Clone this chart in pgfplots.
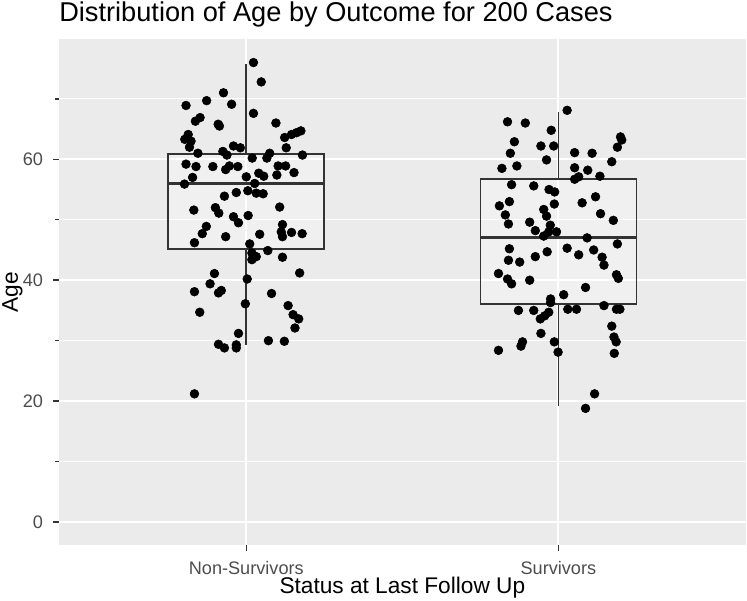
\documentclass[border=0pt]{standalone}
\usepackage{fontspec}
\setmainfont{Liberation Sans}
\usepackage{pgfplots}
\usepackage{pgfplotstable}
\pgfplotsset{compat=1.18}
\definecolor{panelbg}{HTML}{EBEBEB}
\definecolor{grey20}{HTML}{333333}
\definecolor{grey30}{HTML}{4D4D4D}

\pgfplotstableread{
x y
1.023 76.0
1.048 72.8
0.927 71.0
0.873 69.7
0.807 68.9
0.953 69.1
1.023 67.6
0.852 66.9
0.837 66.3
0.910 65.8
0.914 65.5
1.095 66.0
1.175 64.7
1.161 64.4
1.145 64.1
1.123 63.6
0.814 64.1
0.803 63.3
0.823 63.0
0.818 62.0
0.959 62.2
0.981 61.9
1.128 61.9
0.845 61.0
0.925 61.3
0.938 60.7
1.075 61.0
1.180 60.7
1.019 60.2
1.066 60.2
0.807 59.2
0.839 58.8
0.893 58.8
0.934 58.3
0.946 58.9
0.973 58.8
0.828 57.0
1.102 58.9
1.126 58.9
1.098 57.4
1.153 57.8
1.040 57.7
1.056 57.2
1.000 57.1
0.802 55.9
1.027 56.0
1.005 54.8
1.032 54.4
1.054 54.3
0.968 54.5
0.930 53.9
1.107 52.1
0.832 51.6
0.901 52.0
0.912 51.1
0.959 50.5
1.006 50.7
0.975 49.5
0.872 48.9
0.859 47.7
0.934 47.2
1.043 47.6
1.116 49.2
1.112 48.0
1.116 47.2
1.145 47.9
1.179 47.7
0.834 46.2
1.011 46.0
1.018 44.5
1.032 43.9
1.018 43.4
1.069 44.9
1.116 43.8
0.898 41.1
1.171 41.2
1.003 40.2
0.884 39.4
0.834 38.1
0.911 37.9
0.920 38.3
1.081 37.8
0.997 36.1
1.134 35.8
0.851 34.7
1.150 34.3
1.168 33.6
1.156 32.1
0.975 31.2
0.911 29.4
0.930 28.8
0.968 29.3
0.968 28.8
1.071 30.0
1.122 29.9
0.834 21.2
}\nonsurv

\pgfplotstableread{
x y
2.028 68.1
1.837 66.2
1.894 66.0
1.977 64.8
2.199 63.7
2.203 63.2
1.859 62.9
1.944 62.2
1.985 62.2
2.189 62.0
1.846 61.0
2.052 61.1
2.108 61.0
1.962 59.9
2.171 59.6
1.867 58.9
1.819 58.5
2.052 58.6
2.094 58.2
2.133 57.2
2.065 57.1
2.052 56.7
1.850 55.8
1.921 55.6
1.970 55.0
1.988 54.6
2.119 53.8
1.843 53.0
1.811 52.3
2.076 52.8
1.987 52.6
1.953 51.7
1.962 50.6
1.830 50.8
2.135 51.0
1.840 49.3
1.908 49.6
2.176 49.9
1.974 49.1
1.926 48.2
1.969 48.0
1.994 48.0
1.953 47.3
2.092 47.0
2.189 46.0
1.843 45.2
2.028 45.3
1.964 44.7
2.113 45.0
1.926 43.9
2.065 44.2
2.140 43.8
1.840 43.3
1.876 43.0
2.146 42.5
1.808 41.1
1.837 40.2
1.850 39.4
1.908 40.0
2.186 40.9
2.192 40.3
2.087 38.8
2.017 37.6
1.975 36.9
1.975 36.3
2.146 35.8
1.872 35.0
1.921 35.0
1.969 34.7
1.956 34.1
1.942 33.6
2.030 35.2
2.058 35.2
2.186 35.2
2.197 35.2
2.171 32.4
2.178 30.6
2.185 29.8
2.179 27.9
1.944 31.2
1.885 29.8
1.880 29.1
1.808 28.4
1.987 29.8
1.999 28.1
2.116 21.2
2.087 18.8
}\surv

\begin{document}
\begin{tikzpicture}
\begin{axis}[
  scale only axis, width=515pt, height=379.5pt,
  xmin=0.4, xmax=2.6, ymin=-3.8, ymax=79.9,
  axis line style={draw=none},
  axis background/.style={fill=panelbg},
  xtick={1,2}, xticklabels={Non-Survivors,Survivors},
  ytick={0,20,40,60}, minor ytick={10,30,50,70},
  xtick pos=left, ytick pos=left,
  grid=both,
  major grid style={white, line width=1.5pt},
  minor grid style={white, line width=0.75pt},
  tick align=outside, major tick length=4.25pt,
  tick style={grey20, line width=1.1pt},
  /pgf/number format/assume math mode=true,
  xticklabel style={anchor=base, inner sep=0pt, yshift=-18pt, text=grey30, font=\fontsize{13.6}{16}\selectfont},
  yticklabel style={anchor=east, inner sep=0pt, xshift=-7.5pt, text=grey30, font=\fontsize{13.6}{16}\selectfont},
]
\coordinate (pSW) at (rel axis cs:0,0);
\coordinate (pNE) at (rel axis cs:1,1);

\addplot[only marks, mark=*, mark size=3.3pt, mark options={draw=black, fill=black}] table[x=x, y=y] {\nonsurv};
\addplot[only marks, mark=*, mark size=3.3pt, mark options={draw=black, fill=black}] table[x=x, y=y] {\surv};

% Non-Survivors box: whiskers 29.2/75.8, quartiles 45.2/60.9, median 56.0
\addplot[draw=grey20, line width=1.3pt, fill=white, fill opacity=0.25] coordinates {(0.75,45.2) (1.25,45.2) (1.25,60.9) (0.75,60.9)} -- cycle;
\addplot[draw=grey20, line width=1.3pt] coordinates {(1,60.9) (1,75.8)};
\addplot[draw=grey20, line width=1.3pt] coordinates {(1,45.2) (1,29.2)};
\addplot[draw=grey20, line width=2.6pt] coordinates {(0.75,56.0) (1.25,56.0)};
% Survivors box: whiskers 19.15/67.8, quartiles 36.1/56.7, median 47.05
\addplot[draw=grey20, line width=1.3pt, fill=white, fill opacity=0.25] coordinates {(1.75,36.1) (2.25,36.1) (2.25,56.7) (1.75,56.7)} -- cycle;
\addplot[draw=grey20, line width=1.3pt] coordinates {(2,56.7) (2,67.8)};
\addplot[draw=grey20, line width=1.3pt] coordinates {(2,36.1) (2,19.15)};
\addplot[draw=grey20, line width=2.6pt] coordinates {(1.75,47.05) (2.25,47.05)};
\end{axis}
\coordinate (pNW) at (pSW |- pNE);
\path (pSW) -- (pNE) coordinate[pos=0.5] (pC);
\coordinate (pSC) at (pC |- pSW);
\coordinate (pWC) at (pSW |- pC);
\node[anchor=base west, inner sep=0pt, font=\fontsize{20.4}{24}\selectfont] at ([yshift=13.1pt]pNW) {Distribution of Age by Outcome for 200 Cases};
\node[anchor=base, inner sep=0pt, font=\fontsize{17}{20}\selectfont] at ([yshift=-36.75pt]pSC) {Status at Last Follow Up};
\node[anchor=base, rotate=90, inner sep=0pt, font=\fontsize{17}{20}\selectfont] at ([xshift=-30.75pt]pWC) {Age};
\pgfresetboundingbox
\path ([xshift=-44.25pt,yshift=-42pt]pSW) rectangle ([xshift=1pt,yshift=29.25pt]pNE);
\end{tikzpicture}
\end{document}
